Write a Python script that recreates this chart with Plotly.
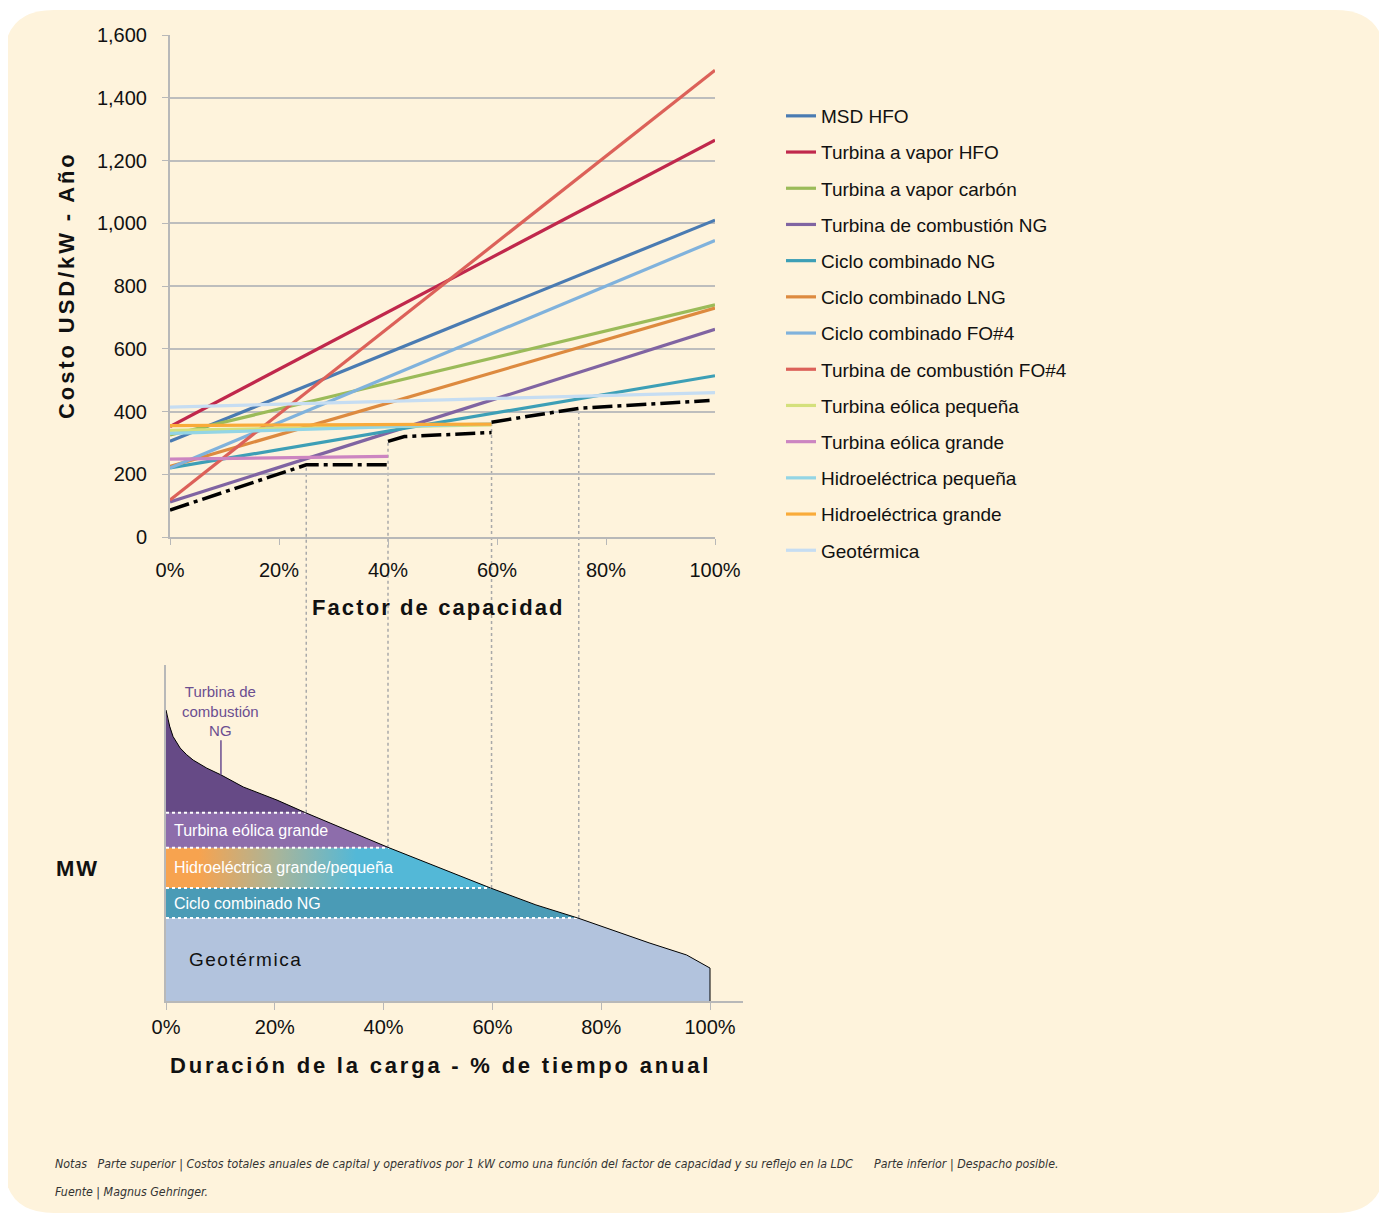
import numpy as np
import plotly.graph_objects as go

W, H = 1387, 1214
OFF = 8  # page body margin
FW, FH = W - OFF, H - OFF

# ---------------- top chart: annual cost (USD/kW-year) vs capacity factor (%) ----------------
cf_full = [0, 100]
cf_hydro = [0, 59]
cf_wind_large = [0, 40]

msd_hfo = [305, 1010]
vapor_hfo = [352, 1265]
vapor_carbon = [325, 740]
ct_ng = [112, 662]
cc_ng = [220, 514]
cc_lng = [225, 730]
cc_fo4 = [220, 945]
ct_fo4 = [118, 1488]
wind_small = [340, 357]
wind_large = [248, 257]
hydro_small = [330, 361]
hydro_large = [355, 360]
geothermal = [414, 460]

# least-cost envelope (dash-dot)
env_cf = [0, 25, 40, None, 40, 43, 59, None, 59, 75, 99]
env_cost = [86, 230, 230, None, 305, 320, 333, None, 366, 410, 435]

# switching points (capacity factor) and cost where the envelope starts there
switch_cf = [25, 40, 59, 75]
switch_cost = [230, 305, 366, 410]

pct_ticks = [0, 20, 40, 60, 80, 100]
pct_labels = ["0%", "20%", "40%", "60%", "80%", "100%"]

# ---------------- bottom chart: load duration curve ----------------
ldc_x = [0, 0.3, 0.7, 1.3, 2.6, 3.8, 5.0, 7.5, 10.1, 14.2, 20.4, 25.7, 41.0, 59.7, 68.0, 75.7, 88.8, 95.7, 100]
ldc_mw = [86.6, 84.0, 81.6, 78.7, 75.3, 73.3, 71.7, 69.3, 67.3, 63.7, 59.8, 56.0, 45.6, 33.6, 28.6, 24.7, 17.3, 13.7, 9.8]

band_names = ["Geotérmica", "Ciclo combinado NG", "Hidroeléctrica grande/pequeña",
              "Turbina eólica grande", "Turbina de combustión NG"]
band_lo = [0, 24.7, 33.6, 45.6, 56.0]
band_hi = [24.7, 33.6, 45.6, 56.0, 100]

FONT = "Liberation Sans, Arial, sans-serif"
NARROW = "Liberation Sans Narrow, DejaVu Sans Condensed, Liberation Sans, sans-serif"


def px_x(p):
    return (p - OFF) / FW


def px_y(p):
    return 1 - (p - OFF) / FH


top_x_dom = [px_x(170), px_x(715)]
top_y_dom = [px_y(537), px_y(35)]
bot_x_dom = [px_x(166), px_x(743)]
bot_y_dom = [px_y(1001), px_y(665)]
bot_x_max = 100 * (743 - 166) / (710 - 166)

fig = go.Figure()

top_series = [
    ("MSD HFO", cf_full, msd_hfo, "#4a7bb2"),
    ("Turbina a vapor HFO", cf_full, vapor_hfo, "#c0284c"),
    ("Turbina a vapor carbón", cf_full, vapor_carbon, "#9bbb59"),
    ("Turbina de combustión NG", cf_full, ct_ng, "#8064a2"),
    ("Ciclo combinado NG", cf_full, cc_ng, "#3d9fb6"),
    ("Ciclo combinado LNG", cf_full, cc_lng, "#dd8a3f"),
    ("Ciclo combinado FO#4", cf_full, cc_fo4, "#80b2dc"),
    ("Turbina de combustión FO#4", cf_full, ct_fo4, "#dc6159"),
    ("Turbina eólica pequeña", cf_hydro, wind_small, "#d4e07c"),
    ("Turbina eólica grande", cf_wind_large, wind_large, "#cc85c1"),
    ("Hidroeléctrica pequeña", cf_hydro, hydro_small, "#93d5e5"),
    ("Hidroeléctrica grande", cf_hydro, hydro_large, "#f9ab3a"),
    ("Geotérmica", cf_full, geothermal, "#c6ddf2"),
]
for name, xs, ys, color in top_series:
    fig.add_trace(go.Scatter(x=xs, y=ys, mode="lines", name=name, legendgroup=name,
                             line=dict(color=color, width=3.2), xaxis="x", yaxis="y"))

fig.add_trace(go.Scatter(x=env_cf, y=env_cost, mode="lines", showlegend=False,
                         line=dict(color="black", width=3.5, dash="20px,5px,4px,5px"),
                         connectgaps=False, xaxis="x", yaxis="y"))


# bottom chart bands
def x_at(level):
    return float(np.interp(level, ldc_mw[::-1], ldc_x[::-1]))


def band_polygon(lo, hi):
    xs, ys = [0, 0], [lo, min(hi, ldc_mw[0])]
    if hi < ldc_mw[0]:
        xs.append(x_at(hi))
        ys.append(hi)
    for x, y in zip(ldc_x, ldc_mw):
        if lo < y < hi:
            xs.append(x)
            ys.append(y)
    if lo > ldc_mw[-1]:
        xs.append(x_at(lo))
    else:
        xs.append(ldc_x[-1])
    ys.append(lo)
    return xs, ys


band_colors = ["#b2c3dd", "#4a9bb6", None, "#8d6dab", "#664a86"]
for name, lo, hi, color in zip(band_names, band_lo, band_hi, band_colors):
    bx, by = band_polygon(lo, hi)
    kw = dict(x=bx, y=by, mode="lines", fill="toself", line=dict(width=0),
              showlegend=False, hoverinfo="skip", xaxis="x2", yaxis="y2", name=name)
    if color is None:
        kw["fillgradient"] = dict(type="horizontal", start=6, stop=35,
                                  colorscale=[[0, "#f7a34f"], [0.5, "#a8b59b"], [1, "#53b8d7"]])
    else:
        kw["fillcolor"] = color
    fig.add_trace(go.Scatter(**kw))

# white dotted boundaries between bands
for lvl in band_lo[1:]:
    fig.add_trace(go.Scatter(x=[0, x_at(lvl)], y=[lvl, lvl], mode="lines", showlegend=False,
                             line=dict(color="white", width=2, dash="dot"),
                             hoverinfo="skip", xaxis="x2", yaxis="y2"))

# curve outline
fig.add_trace(go.Scatter(x=ldc_x + [100], y=ldc_mw + [0], mode="lines", showlegend=False,
                         line=dict(color="black", width=1), hoverinfo="skip",
                         xaxis="x2", yaxis="y2"))

# ---------------- shapes ----------------
shapes = []
# cream panel with rounded corners
x0, x1, y0, y1, r = 4, 1385, 10, 1213, 50


def P(x, y):
    return f"{px_x(x):.5f},{px_y(y):.5f}"


panel = (f"M {P(x0 + r, y0)} L {P(x1 - r, y0)} Q {P(x1, y0)} {P(x1, y0 + r)} "
         f"L {P(x1, y1 - r)} Q {P(x1, y1)} {P(x1 - r, y1)} L {P(x0 + r, y1)} "
         f"Q {P(x0, y1)} {P(x0, y1 - r)} L {P(x0, y0 + r)} Q {P(x0, y0)} {P(x0 + r, y0)} Z")
shapes.append(dict(type="path", path=panel, xref="paper", yref="paper", layer="below",
                   fillcolor="#fef3dc", line=dict(width=0)))


def top_paper(v):
    return top_y_dom[0] + v / 1600 * (top_y_dom[1] - top_y_dom[0])


def bot_paper(v):
    return bot_y_dom[0] + v / 100 * (bot_y_dom[1] - bot_y_dom[0])


for c, cost, lvl in zip(switch_cf, switch_cost, band_lo[::-1][:4]):
    shapes.append(dict(type="line", xref="x", yref="paper", x0=c, x1=c,
                       y0=bot_paper(lvl), y1=top_paper(cost), layer="below",
                       line=dict(color="#a9a9a9", width=1.5, dash="dot")))

# ---------------- annotations ----------------
ann = []
bold = dict(family=FONT, size=22, weight="bold", color="#111")
ann.append(dict(text='<span style="letter-spacing:2.9px">Costo USD/kW - Año</span>',
                x=px_x(66), y=px_y(285), textangle=-90, font=bold))
ann.append(dict(text='<span style="letter-spacing:2.1px">Factor de capacidad</span>',
                x=px_x(438), y=px_y(607), font=bold))
ann.append(dict(text='<span style="letter-spacing:2.8px">Duración de la carga - % de tiempo anual</span>',
                x=px_x(440), y=px_y(1065), font=bold))
ann.append(dict(text='<span style="letter-spacing:2px">MW</span>', x=px_x(77), y=px_y(868),
                font=bold))

for name, lo, hi in zip(band_names[:4], band_lo, band_hi):
    mid = (lo + hi) / 2
    if name == "Geotérmica":
        ann.append(dict(text=f'<span style="letter-spacing:1.5px">{name}</span>', x=3.9, y=mid,
                        xref="x2", yref="y2", xanchor="left",
                        font=dict(family=FONT, size=19, color="#111")))
    else:
        ann.append(dict(text=name, x=1.1, y=mid, xref="x2", yref="y2", xanchor="left",
                        font=dict(family=FONT, size=16, color="white")))

ann.append(dict(text="Turbina de<br>combustión<br>NG", x=10.1, y=67.3, xref="x2", yref="y2",
                showarrow=True, arrowhead=0, arrowwidth=1.5, arrowcolor="#6b4e90",
                ax=0, ay=-64, font=dict(family=FONT, size=15, color="#6b4e90")))

nb = "\u00a0"
note1 = (f"Notas{nb*3}Parte superior | Costos totales anuales de capital y operativos por 1 kW "
         f"como una función del factor de capacidad y su reflejo en la LDC{nb*6}"
         f"Parte inferior | Despacho posible.")
note2 = "Fuente | Magnus Gehringer."
for t, yy in [(note1, 1164), (note2, 1192)]:
    ann.append(dict(text=t, x=px_x(53), y=px_y(yy), xanchor="left",
                    font=dict(family=NARROW, size=12.3, style="italic", color="#333")))

for a in ann:
    a.setdefault("xref", "paper")
    a.setdefault("yref", "paper")
    a.setdefault("xanchor", "center")
    a.setdefault("yanchor", "middle")
    a.setdefault("showarrow", False)

axis_gray = "#b8b8b8"
tickfont = dict(family=FONT, size=20, color="#111")

fig.update_layout(
    width=FW, height=FH,
    margin=dict(l=0, r=0, t=0, b=0, pad=0, autoexpand=False),
    paper_bgcolor="white",
    plot_bgcolor="rgba(0,0,0,0)",
    font=dict(family=FONT),
    showlegend=True,
    legend=dict(x=px_x(781), y=px_y(97), xanchor="left", yanchor="top",
                bgcolor="rgba(0,0,0,0)", tracegroupgap=8.5,
                font=dict(family=FONT, size=19, color="#111")),
    xaxis=dict(domain=top_x_dom, range=[0, 100], tickvals=pct_ticks, ticktext=pct_labels,
               showline=True, linecolor=axis_gray, linewidth=2, automargin=False,
               ticks="outside", ticklen=6, tickcolor=axis_gray, showgrid=False,
               zeroline=False, tickfont=tickfont, anchor="y", ticklabelstandoff=8),
    yaxis=dict(domain=top_y_dom, range=[0, 1600], dtick=200, tickformat=",",
               showgrid=True, gridcolor="#bdbdbd", gridwidth=1.5, showline=True,
               linecolor=axis_gray, linewidth=2, ticks="outside", ticklen=6, automargin=False,
               tickcolor=axis_gray, zeroline=False, tickfont=tickfont, anchor="x",
               ticklabelstandoff=11),
    xaxis2=dict(domain=bot_x_dom, range=[0, bot_x_max], tickvals=pct_ticks, ticktext=pct_labels,
                showline=True, linecolor=axis_gray, linewidth=2, automargin=False,
                ticks="outside", ticklen=7, tickcolor=axis_gray, showgrid=False,
                zeroline=False, tickfont=tickfont, anchor="y2", ticklabelstandoff=0),
    yaxis2=dict(domain=bot_y_dom, range=[0, 100], showline=True, linecolor=axis_gray,
                linewidth=2, showticklabels=False, ticks="", showgrid=False, automargin=False,
                zeroline=False, anchor="x2"),
    shapes=shapes,
    annotations=ann,
)

fig.write_html("out.html")
